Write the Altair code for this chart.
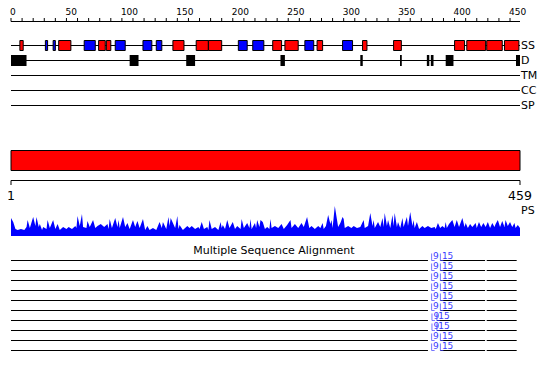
import altair as alt
import pandas as pd

FONT = "DejaVu Sans"

seq_length = 459

axis_ticks = list(range(0, 451, 10))
axis_labels = [0, 50, 100, 150, 200, 250, 300, 350, 400, 450]
end_labels = [1, 459]

tracks = ["SS", "D", "TM", "CC", "SP"]

# secondary structure elements (H = helix, red; E = strand, blue)
ss_start = [8, 31, 38, 43, 66, 79, 86, 94, 119, 131, 146, 167, 178, 205, 218,
            236, 247, 265, 276, 299, 317, 345, 400, 411, 429, 445]
ss_end = [11, 33, 40, 54, 76, 85, 90, 103, 127, 136, 156, 178, 190, 213, 228,
          244, 259, 273, 281, 308, 321, 352, 409, 428, 443, 458]
ss_type = ["H", "E", "E", "H", "E", "H", "H", "E", "E", "E", "H", "H", "H", "E", "E",
           "H", "H", "E", "H", "E", "H", "H", "H", "H", "H", "H"]

# disorder blocks
dom_start = [0, 107, 158, 243, 315, 350.8, 375, 378.6, 392, 455.4]
dom_end = [14, 115, 166, 247, 317.2, 352.4, 377.2, 381, 399, 459]

# PS profile
ps_pos = [0, 2, 4, 6, 9, 12, 14, 15, 17, 20, 22, 23, 25, 26, 28, 29, 32, 33, 35, 38,
          40, 42, 44, 47, 50, 52, 55, 58, 59, 60, 62, 64, 65, 68, 69, 71, 74, 76, 78, 81,
          84, 87, 88, 89, 91, 94, 96, 97, 98, 101, 103, 105, 107, 110, 112, 114, 116, 119, 121, 123,
          125, 128, 131, 134, 136, 137, 140, 142, 143, 144, 146, 148, 150, 151, 152, 155, 159, 161, 163, 166,
          169, 170, 172, 174, 177, 178, 179, 181, 184, 187, 189, 190, 191, 193, 195, 197, 200, 202, 204, 207,
          208, 210, 213, 215, 216, 217, 220, 221, 222, 224, 225, 227, 229, 231, 233, 234, 235, 238, 241, 244,
          246, 249, 252, 253, 256, 259, 262, 264, 267, 269, 271, 274, 277, 279, 281, 282, 284, 286, 288, 289,
          290, 292, 294, 295, 297, 299, 300, 301, 304, 307, 309, 312, 315, 318, 319, 322, 324, 326, 327, 328,
          331, 333, 335, 336, 337, 339, 340, 342, 344, 345, 346, 348, 349, 351, 353, 354, 357, 358, 360, 362,
          363, 364, 366, 368, 371, 373, 376, 379, 382, 383, 385, 387, 389, 391, 392, 393, 395, 398, 400, 402,
          404, 407, 409, 410, 412, 414, 416, 419, 420, 422, 424, 426, 428, 430, 432, 434, 436, 437, 439, 441,
          443, 445, 446, 448, 450, 452, 454, 455, 457, 459]
ps_val = [18, 14, 7, 6, 7, 6, 9, 16, 8, 19, 10, 19, 9, 12, 6, 9, 7, 16, 8, 16,
          7, 12, 6, 9, 7, 9, 7, 10, 8, 20, 10, 22, 9, 8, 15, 9, 16, 8, 10, 12,
          9, 12, 7, 17, 8, 18, 9, 16, 8, 19, 9, 13, 7, 16, 9, 15, 8, 17, 6, 10,
          6, 8, 6, 14, 8, 14, 7, 19, 10, 18, 13, 8, 20, 7, 11, 6, 10, 8, 10, 7,
          9, 7, 14, 7, 9, 6, 16, 7, 9, 6, 14, 8, 11, 7, 16, 8, 14, 7, 10, 7,
          17, 8, 13, 8, 17, 7, 13, 8, 16, 9, 16, 14, 7, 9, 7, 17, 8, 10, 8, 12,
          7, 11, 16, 8, 12, 8, 13, 9, 19, 8, 10, 7, 10, 8, 13, 7, 10, 21, 12, 16,
          8, 30, 16, 9, 13, 19, 17, 8, 10, 8, 10, 8, 9, 16, 8, 10, 23, 10, 16, 8,
          14, 9, 18, 9, 23, 10, 16, 8, 21, 10, 23, 9, 14, 8, 18, 9, 19, 10, 24, 10,
          16, 8, 14, 7, 10, 8, 10, 8, 9, 7, 13, 8, 10, 8, 14, 8, 12, 16, 9, 16,
          9, 18, 9, 13, 8, 12, 9, 13, 8, 14, 9, 13, 9, 14, 8, 13, 9, 12, 16, 9,
          15, 9, 16, 10, 14, 9, 13, 8, 11, 8]

# multiple sequence alignment rows
msa_rows = ["s1", "s2", "s3", "s4", "s5", "s6", "s7", "s8", "s9", "s10"]
msa_seg_a = [0, 376]
msa_seg_b_end = 427.5
msa_seg_c = [429, 456]
msa_mark1 = [379.3, 379.3, 379.3, 379.3, 379.3, 379.3, 379.6, 379.6, 379.3, 379.3]
msa_mark2 = [387.2, 387.2, 387.2, 387.2, 387.2, 387.2, 384.0, 384.0, 387.2, 387.2]
msa_label1 = "9"
msa_label2 = "15"
msa_title = "Multiple Sequence Alignment"

# ---------------------------------------------------------------- scales
XS = alt.Scale(domain=[0, seq_length], range=[3, 512], nice=False, zero=False)
XB = alt.Scale(domain=[1, seq_length], range=[3, 512], nice=False, zero=False)
TRACK_Y = alt.Scale(type="point", domain=tracks, range=[37.5, 97.5], padding=0)
ROW_Y = alt.Scale(type="point", domain=msa_rows, range=[252.5, 342.5], padding=0)
PS_Y = alt.Scale(domain=[0, 30], range=[228, 198], nice=False, zero=True)


def xq(field, scale=XS):
    return alt.X(field, type="quantitative", scale=scale, axis=None)


layers = []

# top ruler
layers.append(alt.Chart(pd.DataFrame({"start": [0], "end": [seq_length]}))
              .mark_rule(color="black", strokeWidth=1)
              .encode(x=xq("start"), x2="end:Q", y=alt.value(13.5)))
layers.append(alt.Chart(pd.DataFrame({"t": axis_ticks}))
              .mark_rule(color="black", strokeWidth=1)
              .encode(x=xq("t"), y=alt.value(10), y2=alt.value(13.5)))
layers.append(alt.Chart(pd.DataFrame({"t": axis_labels}))
              .mark_text(align="left", baseline="alphabetic", font=FONT, fontSize=9, dx=-1, color="black")
              .encode(x=xq("t"), y=alt.value(7), text="t:N"))

# track lines and labels
track_df = pd.DataFrame({"track": tracks, "start": [0] * len(tracks), "end": [seq_length] * len(tracks)})
layers.append(alt.Chart(track_df).mark_rule(color="black", strokeWidth=1)
              .encode(x=xq("start"), x2="end:Q",
                      y=alt.Y("track:N", scale=TRACK_Y, axis=None)))
layers.append(alt.Chart(track_df)
              .mark_text(align="left", baseline="middle", font=FONT, fontSize=11, color="black")
              .encode(x=alt.value(513), y=alt.Y("track:N", scale=TRACK_Y, axis=None), text="track:N"))

# SS boxes
ss_df = pd.DataFrame({"start": ss_start, "end": ss_end, "type": ss_type})
layers.append(alt.Chart(ss_df).mark_rect(stroke="black", strokeWidth=1)
              .encode(x=xq("start"), x2="end:Q", y=alt.value(32.5), y2=alt.value(42.5),
                      color=alt.Color("type:N", scale=alt.Scale(domain=["H", "E"], range=["#ff0000", "#0000ff"]),
                                      legend=None)))

# disorder blocks
dom_df = pd.DataFrame({"start": dom_start, "end": dom_end})
layers.append(alt.Chart(dom_df).mark_rect(color="black")
              .encode(x=xq("start"), x2="end:Q", y=alt.value(47), y2=alt.value(58)))

# red sequence bar
bar_df = pd.DataFrame({"start": [1], "end": [seq_length]})
layers.append(alt.Chart(bar_df).mark_rect(fill="#ff0000", stroke="black", strokeWidth=1)
              .encode(x=xq("start", XB), x2="end:Q", y=alt.value(142.5), y2=alt.value(162.5)))

# bottom ruler
layers.append(alt.Chart(bar_df).mark_rule(color="black", strokeWidth=1)
              .encode(x=xq("start", XB), x2="end:Q", y=alt.value(172.5)))
end_df = pd.DataFrame({"t": end_labels})
layers.append(alt.Chart(end_df).mark_rule(color="black", strokeWidth=1)
              .encode(x=xq("t", XB), y=alt.value(172.5), y2=alt.value(177)))
layers.append(alt.Chart(end_df)
              .mark_text(align="center", baseline="alphabetic", font=FONT, fontSize=12.5, color="black")
              .encode(x=xq("t", XB), y=alt.value(192), text="t:N"))

# PS profile
ps_df = pd.DataFrame({"pos": ps_pos, "val": ps_val})
layers.append(alt.Chart(ps_df).mark_area(color="#0000ff", interpolate="linear")
              .encode(x=xq("pos"), y=alt.Y("val:Q", scale=PS_Y, axis=None)))
layers.append(alt.Chart(pd.DataFrame({"label": ["PS"]}))
              .mark_text(align="left", baseline="middle", font=FONT, fontSize=11, color="black")
              .encode(x=alt.value(513), y=alt.value(203), text="label:N"))

# MSA
layers.append(alt.Chart(pd.DataFrame({"label": [msa_title]}))
              .mark_text(align="center", baseline="alphabetic", font=FONT, fontSize=11, color="black")
              .encode(x=alt.value(266), y=alt.value(246), text="label:N"))

seg_rows, seg_s, seg_e = [], [], []
for i, r in enumerate(msa_rows):
    for s, e in [(msa_seg_a[0], msa_seg_a[1]), (msa_mark2[i], msa_seg_b_end), (msa_seg_c[0], msa_seg_c[1])]:
        seg_rows.append(r)
        seg_s.append(s)
        seg_e.append(e)
seg_df = pd.DataFrame({"row": seg_rows, "start": seg_s, "end": seg_e})
layers.append(alt.Chart(seg_df).mark_rule(color="black", strokeWidth=1)
              .encode(x=xq("start"), x2="end:Q", y=alt.Y("row:N", scale=ROW_Y, axis=None)))

mk_rows, mk_pos, mk_lab = [], [], []
for i, r in enumerate(msa_rows):
    mk_rows += [r, r]
    mk_pos += [msa_mark1[i], msa_mark2[i]]
    mk_lab += [msa_label1, msa_label2]
mk_df = pd.DataFrame({"row": mk_rows, "pos": mk_pos, "label": mk_lab})
BLUE2 = "#3c3cff"
layers.append(alt.Chart(mk_df).mark_tick(orient="vertical", size=7, thickness=1, color=BLUE2, yOffset=-3.5)
              .encode(x=xq("pos"), y=alt.Y("row:N", scale=ROW_Y, axis=None)))
layers.append(alt.Chart(mk_df).mark_tick(orient="horizontal", size=3, thickness=1, color=BLUE2, xOffset=1.5)
              .encode(x=xq("pos"), y=alt.Y("row:N", scale=ROW_Y, axis=None)))
layers.append(alt.Chart(mk_df)
              .mark_text(align="left", baseline="alphabetic", font=FONT, fontSize=9, color=BLUE2, dx=1.5, dy=-2)
              .encode(x=xq("pos"), y=alt.Y("row:N", scale=ROW_Y, axis=None), text="label:N"))

chart = (alt.layer(*layers)
         .resolve_scale(x="independent", y="independent", color="independent")
         .properties(width=534, height=364, autosize=alt.AutoSizeParams(type="none"), padding=0)
         .configure_view(strokeWidth=0))

chart.save("out.html", embed_options={"renderer": "svg", "actions": False})
